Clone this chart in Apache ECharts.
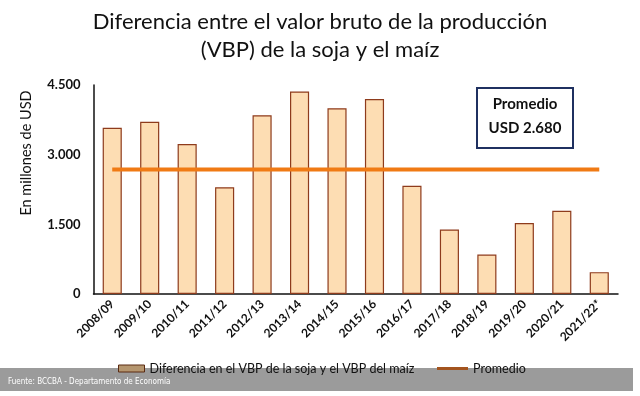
<!DOCTYPE html>
<html>
<head>
<meta charset="utf-8">
<script src="https://cdn.jsdelivr.net/npm/echarts@6/dist/echarts.min.js"></script>
<style>html,body{margin:0;padding:0;background:#fff;}#c{width:640px;height:396px;}</style>
</head>
<body>
<div id="c"></div>
<script>
var categories = ['2008/09','2009/10','2010/11','2011/12','2012/13','2013/14','2014/15','2015/16','2016/17','2017/18','2018/19','2019/20','2020/21','2021/22*'];
var diffValues = [3580, 3710, 3230, 2300, 3850, 4360, 4000, 4200, 2330, 1390, 850, 1530, 1790, 470];
var avgValue = 2680;
var yTicks = [0, 1500, 3000, 4500];
var barName = 'Diferencia en el VBP de la soja y el VBP del maíz';
var lineName = 'Promedio';

var FONT = 'Lato, "Noto Sans", sans-serif';
function fmt(v){ return String(v).replace(/\B(?=(\d{3})+(?!\d))/g, '.'); }

var chart = echarts.init(document.getElementById('c'), null, {renderer:'canvas'});
chart.setOption({
  animation: false,
  backgroundColor: '#ffffff',
  textStyle: {fontFamily: FONT},
  title: {
    text: 'Diferencia entre el valor bruto de la producción\n(VBP) de la soja y el maíz',
    left: 'center', top: 3,
    textStyle: {fontFamily: FONT, fontSize: 22, fontWeight: 'normal', color: '#111', lineHeight: 28}
  },
  grid: {left: 93.5, right: 22, top: 85, bottom: 102},
  legend: [{
    left: 113, top: 357, itemWidth: 26, itemHeight: 7, icon: 'rect',
    textStyle: {fontFamily: FONT, fontSize: 12.5, color: '#111'},
    data: [{name: barName, itemStyle: {color: '#B5966F', borderColor: '#5A2A12', borderWidth: 1}}]
  },{
    left: 432, top: 357, itemWidth: 31, itemHeight: 3, icon: 'rect',
    textStyle: {fontFamily: FONT, fontSize: 12.5, color: '#111'},
    data: [{name: lineName, itemStyle: {color: '#A3541F', borderWidth: 0}}]
  }],
  xAxis: {
    type: 'category', data: categories, boundaryGap: true,
    axisLine: {lineStyle: {color: '#111', width: 1.5}},
    axisTick: {show: false},
    axisLabel: {interval: 0, rotate: 45, margin: 8, fontFamily: FONT, fontSize: 12, fontWeight: 'bold', color: '#111'}
  },
  yAxis: {
    type: 'value', min: 0, max: 4500, interval: 1500,
    axisLine: {show: true, lineStyle: {color: '#111', width: 1.5}},
    axisTick: {show: false},
    splitLine: {show: false},
    axisLabel: {margin: 13, fontFamily: FONT, fontSize: 13, fontWeight: 'bold', color: '#111',
      formatter: function(v){ return yTicks.indexOf(v) >= 0 ? fmt(v) : ''; }}
  },
  graphic: [
    {type: 'rect', z: 0, shape: {x: 0, y: 368, width: 633, height: 23}, style: {fill: '#9B9B9B'}},
    {type: 'text', z: 1, x: 8, y: 382, style: {text: 'Fuente: BCCBA - Departamento de Economía', fill: '#fff',
      font: '8px "Liberation Sans Narrow", "DejaVu Sans Condensed", sans-serif', textVerticalAlign: 'middle'}},
    {type: 'text', x: 26, y: 153, rotation: Math.PI/2, style: {text: 'En millones de USD', fill: '#111',
      font: '14.5px ' + FONT, textAlign: 'center', textVerticalAlign: 'middle'}},
    {type: 'rect', shape: {x: 477, y: 88, width: 96, height: 60}, style: {fill: '#fff', stroke: '#1F3060', lineWidth: 2}},
    {type: 'text', x: 525, y: 104, style: {text: 'Promedio', fill: '#111', font: 'bold 15px ' + FONT, textAlign: 'center', textVerticalAlign: 'middle'}},
    {type: 'text', x: 525, y: 128, style: {text: 'USD ' + fmt(avgValue), fill: '#111', font: 'bold 15px ' + FONT, textAlign: 'center', textVerticalAlign: 'middle'}}
  ],
  series: [{
    name: barName, type: 'bar', data: diffValues, barWidth: '51%',
    itemStyle: {color: '#FDDDB3', borderColor: '#8E3B1C', borderWidth: 1.2}
  },{
    name: lineName, type: 'line', data: categories.map(function(){ return avgValue; }),
    symbol: 'none', lineStyle: {color: '#F07A14', width: 4}, z: 3
  }]
});
</script>
</body>
</html>
